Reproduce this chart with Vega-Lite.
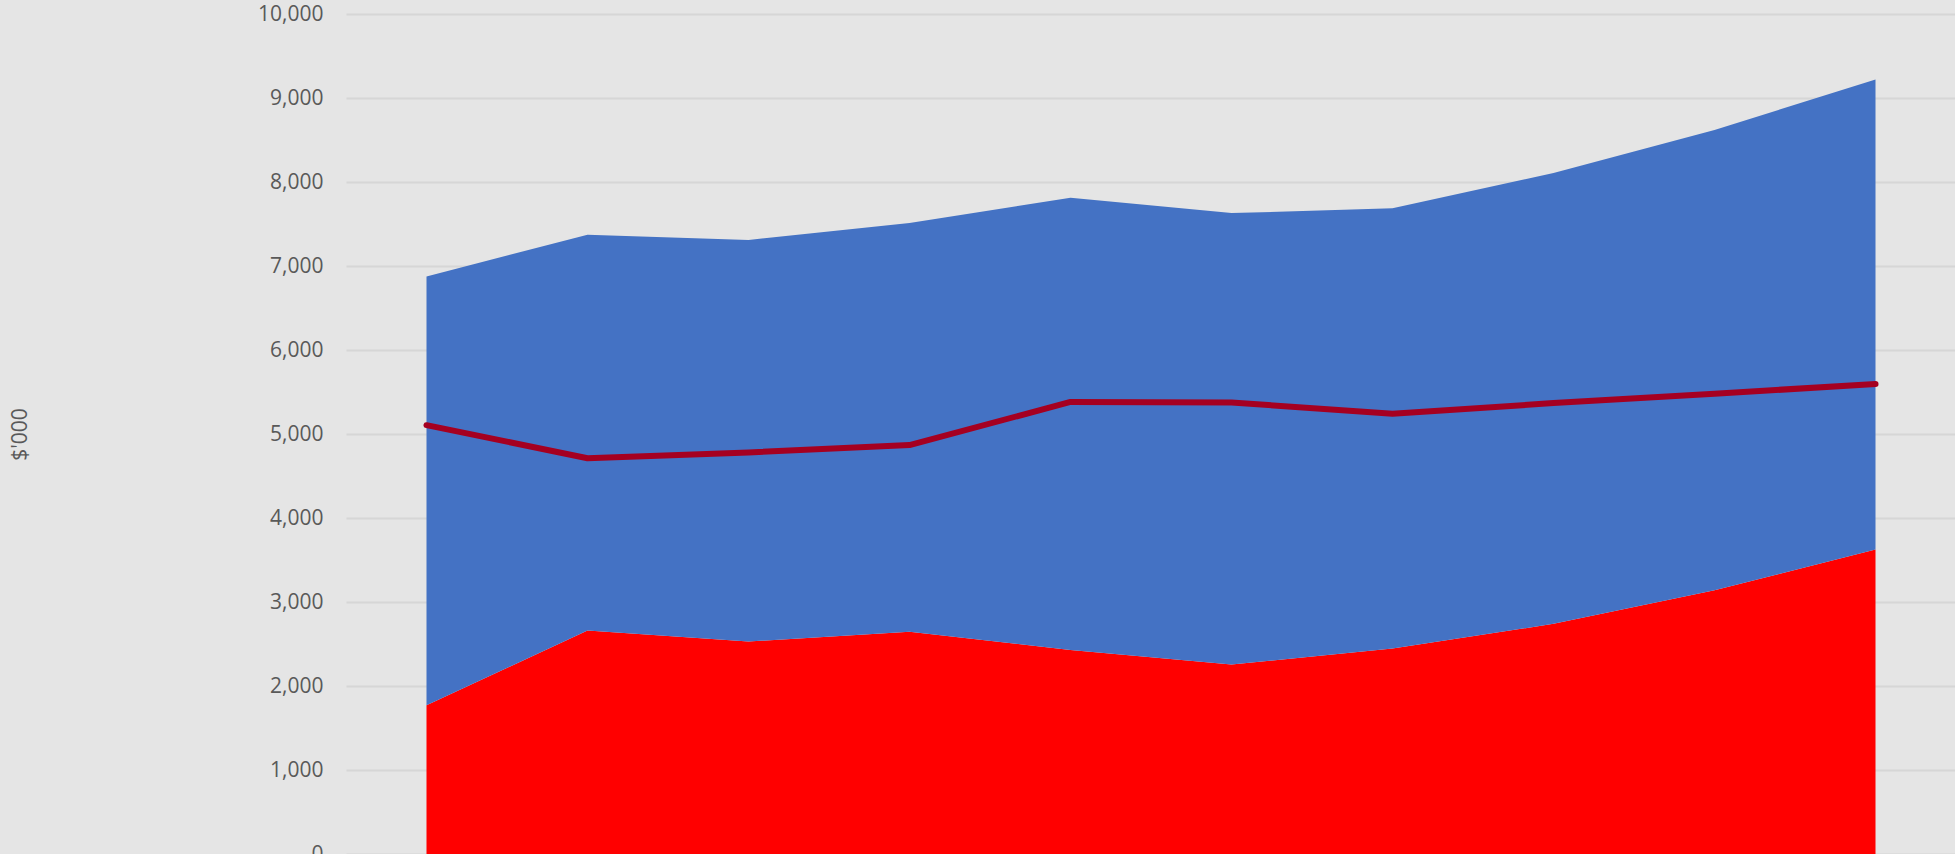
{
  "$schema": "https://vega.github.io/schema/vega-lite/v6.json",
  "width": 1610,
  "height": 840,
  "autosize": {"type": "none"},
  "padding": {"left": 346, "top": 14, "right": 0, "bottom": 0},
  "background": "#e5e5e5",
  "config": {
    "view": {"stroke": null, "fill": "#e5e5e5"},
    "font": "Open Sans"
  },
  "data": {
    "values": [
      {"period": 1, "series": "A", "value": 1770},
      {"period": 2, "series": "A", "value": 2660},
      {"period": 3, "series": "A", "value": 2530},
      {"period": 4, "series": "A", "value": 2645},
      {"period": 5, "series": "A", "value": 2430},
      {"period": 6, "series": "A", "value": 2255},
      {"period": 7, "series": "A", "value": 2445},
      {"period": 8, "series": "A", "value": 2740},
      {"period": 9, "series": "A", "value": 3140},
      {"period": 10, "series": "A", "value": 3625},
      {"period": 1, "series": "B", "value": 5105},
      {"period": 2, "series": "B", "value": 4712},
      {"period": 3, "series": "B", "value": 4780},
      {"period": 4, "series": "B", "value": 4868},
      {"period": 5, "series": "B", "value": 5382},
      {"period": 6, "series": "B", "value": 5375},
      {"period": 7, "series": "B", "value": 5242},
      {"period": 8, "series": "B", "value": 5368},
      {"period": 9, "series": "B", "value": 5480},
      {"period": 10, "series": "B", "value": 5595}
    ]
  },
  "layer": [
    {
      "mark": {"type": "area", "opacity": 1},
      "encoding": {
        "x": {"field": "period", "type": "quantitative", "scale": {"domain": [0.5, 10.5], "nice": false, "zero": false}, "axis": null},
        "y": {
          "field": "value", "type": "quantitative", "stack": "zero",
          "scale": {"domain": [0, 10000], "nice": false},
          "axis": {
            "values": [0, 1000, 2000, 3000, 4000, 5000, 6000, 7000, 8000, 9000, 10000],
            "format": ",.0f",
            "domain": false,
            "ticks": false,
            "labelPadding": 23,
            "labelFontSize": 21,
            "labelColor": "#595959",
            "labelFont": "Open Sans",
            "grid": true,
            "gridColor": "#d6d6d6",
            "gridWidth": 2,
            "title": "$'000",
            "titleFont": "Open Sans",
            "titleFontSize": 21,
            "titleFontWeight": "normal",
            "titleColor": "#595959",
            "titleAngle": -90,
            "titleX": -326,
            "titleY": 420,
            "titleAlign": "center",
            "titleBaseline": "middle"
          }
        },
        "color": {"field": "series", "type": "nominal", "scale": {"domain": ["A", "B"], "range": ["#ff0000", "#4472c4"]}, "legend": null},
        "order": {"field": "series", "sort": "ascending"}
      }
    },
    {
      "transform": [{"filter": "datum.series === 'B'"}],
      "mark": {"type": "line", "color": "#a50021", "strokeWidth": 6, "strokeCap": "round", "strokeJoin": "round"},
      "encoding": {
        "x": {"field": "period", "type": "quantitative"},
        "y": {"field": "value", "type": "quantitative"}
      }
    }
  ]
}
